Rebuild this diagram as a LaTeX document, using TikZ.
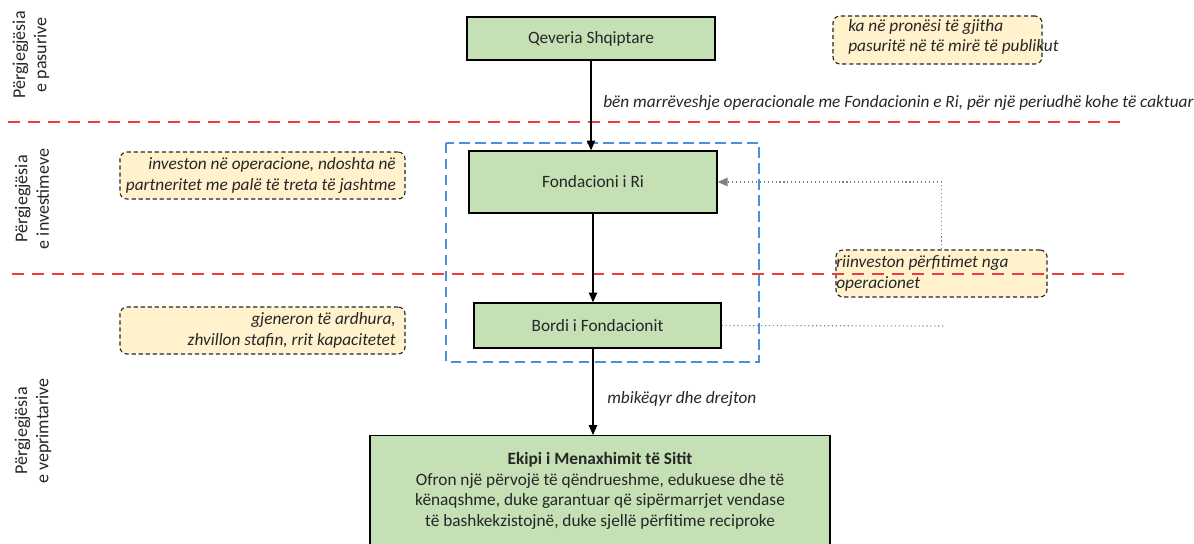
\documentclass[tikz,border=0pt]{standalone}
\usepackage{fontspec}
\setmainfont{Carlito}
\usetikzlibrary{arrows.meta}
\definecolor{boxgreen}{HTML}{C5E0B4}
\definecolor{notefill}{HTML}{FFF2CC}
\definecolor{linered}{HTML}{F03C3C}
\definecolor{lineblue}{HTML}{4A8FD8}
\definecolor{textgray}{HTML}{262626}

\begin{document}
\begin{tikzpicture}[x=0.025cm,y=-0.025cm,font=\fontsize{12.3}{14.7}\selectfont,text=textgray]
			\tikzstyle{box}=[draw=black,fill=boxgreen,line width=0.9pt,inner sep=0pt]
			\tikzstyle{note}=[draw=black!85,fill=notefill,dash pattern=on 3pt off 2pt,line width=0.8pt,rounded corners=5pt,inner sep=0pt]
			\tikzstyle{notetext}=[font=\fontsize{12.3}{14.7}\selectfont\itshape,align=left,inner sep=0pt]
			\tikzstyle{divider}=[linered,line width=1.2pt,dash pattern=on 0.3cm off 0.2cm]
			\tikzstyle{side}=[rotate=90,align=center,inner sep=0pt,font=\fontsize{12.8}{15.2}\selectfont]
			\tikzstyle{flow}=[-{Triangle[length=7pt,width=6pt]},line width=0.8pt,draw=black]
			\useasboundingbox (0,0) rectangle (1194,544);
				% side labels
				\node[side](lab1) at (31,55){Përgjegjësia\\e pasurive};
				\node[side](lab2) at (32,199){Përgjegjësia\\e investimeve};
				\node[side](lab3) at (33,431){Përgjegjësia\\e veprimtarive};
				% blue frame
				\draw[lineblue,line width=1.4pt,dash pattern=on 0.26cm off 0.14cm] (446,143) rectangle (759,362);
				% boxes
				\node[box,minimum width=6.2cm,minimum height=1.075cm](qev) at (591,38.5){Qeveria Shqiptare};
				\node[box,minimum width=6.2cm,minimum height=1.55cm](fond) at (593,182){Fondacioni i Ri};
				\node[box,minimum width=6.175cm,minimum height=1.125cm](bord) at (597.5,325.5){Bordi i Fondacionit};
				\node[box,anchor=north,minimum width=11.5cm,minimum height=2.76cm,align=center](ekip) at (600,435){\textbf{Ekipi i Menaxhimit të Sitit}\\Ofron një përvojë të qëndrueshme, edukuese dhe të\\kënaqshme, duke garantuar që sipërmarrjet vendase\\të bashkekzistojnë, duke sjellë përfitime reciproke};
				% notes
				\node[note,minimum width=5.225cm,minimum height=1.2cm](pron) at (937.5,40){};
				\node[notetext,anchor=west](prontxt) at (848,37){ka në pronësi të gjitha\\pasuritë në të mirë të publikut};
				\node[note,minimum width=7.125cm,minimum height=1.175cm](inv) at (262.5,175.5){};
				\node[notetext,anchor=east,align=right](invtxt) at (396,175.5){investon në operacione, ndoshta në\\partneritet me palë të treta të jashtme};
				\node[note,minimum width=7.125cm,minimum height=1.175cm](gjen) at (262.5,330.5){};
				\node[notetext,anchor=east,align=right](gjentxt) at (396,330.5){gjeneron të ardhura,\\zhvillon stafin, rrit kapacitetet};
				\node[note,minimum width=5.275cm,minimum height=1.175cm](ri) at (941.5,273.5){};
				\node[notetext,anchor=west](ritxt) at (836,273.5){riinveston përfitimet nga\\operacionet};
				% dividers
				\draw[divider] (8,122) -- (1125,122);
				\draw[divider] (12,274) -- (1130,274);
				% connectors
				\coordinate (bordend) at (943,326);
				\draw[flow] (qev.south) -- (qev.south |- fond.north);
				\draw[flow] (fond.south) -- (fond.south |- bord.north);
				\draw[flow] (fond.south |- bord.south) -- (fond.south |- ekip.north);
				\draw[gray,dotted,line width=0.8pt,-{Triangle[length=7pt,width=6pt]}] (ri.north) |- (fond.east);
				\draw[gray,dotted,line width=0.8pt] (bord.east) -- (bordend);
				% arrow labels
				\node[notetext,anchor=west](lbl1) at (603,103){bën marrëveshje operacionale me Fondacionin e Ri, për një periudhë kohe të caktuar};
				\node[notetext,anchor=west](lbl2) at (607,399){mbikëqyr dhe drejton};
			\end{tikzpicture}
\end{document}
